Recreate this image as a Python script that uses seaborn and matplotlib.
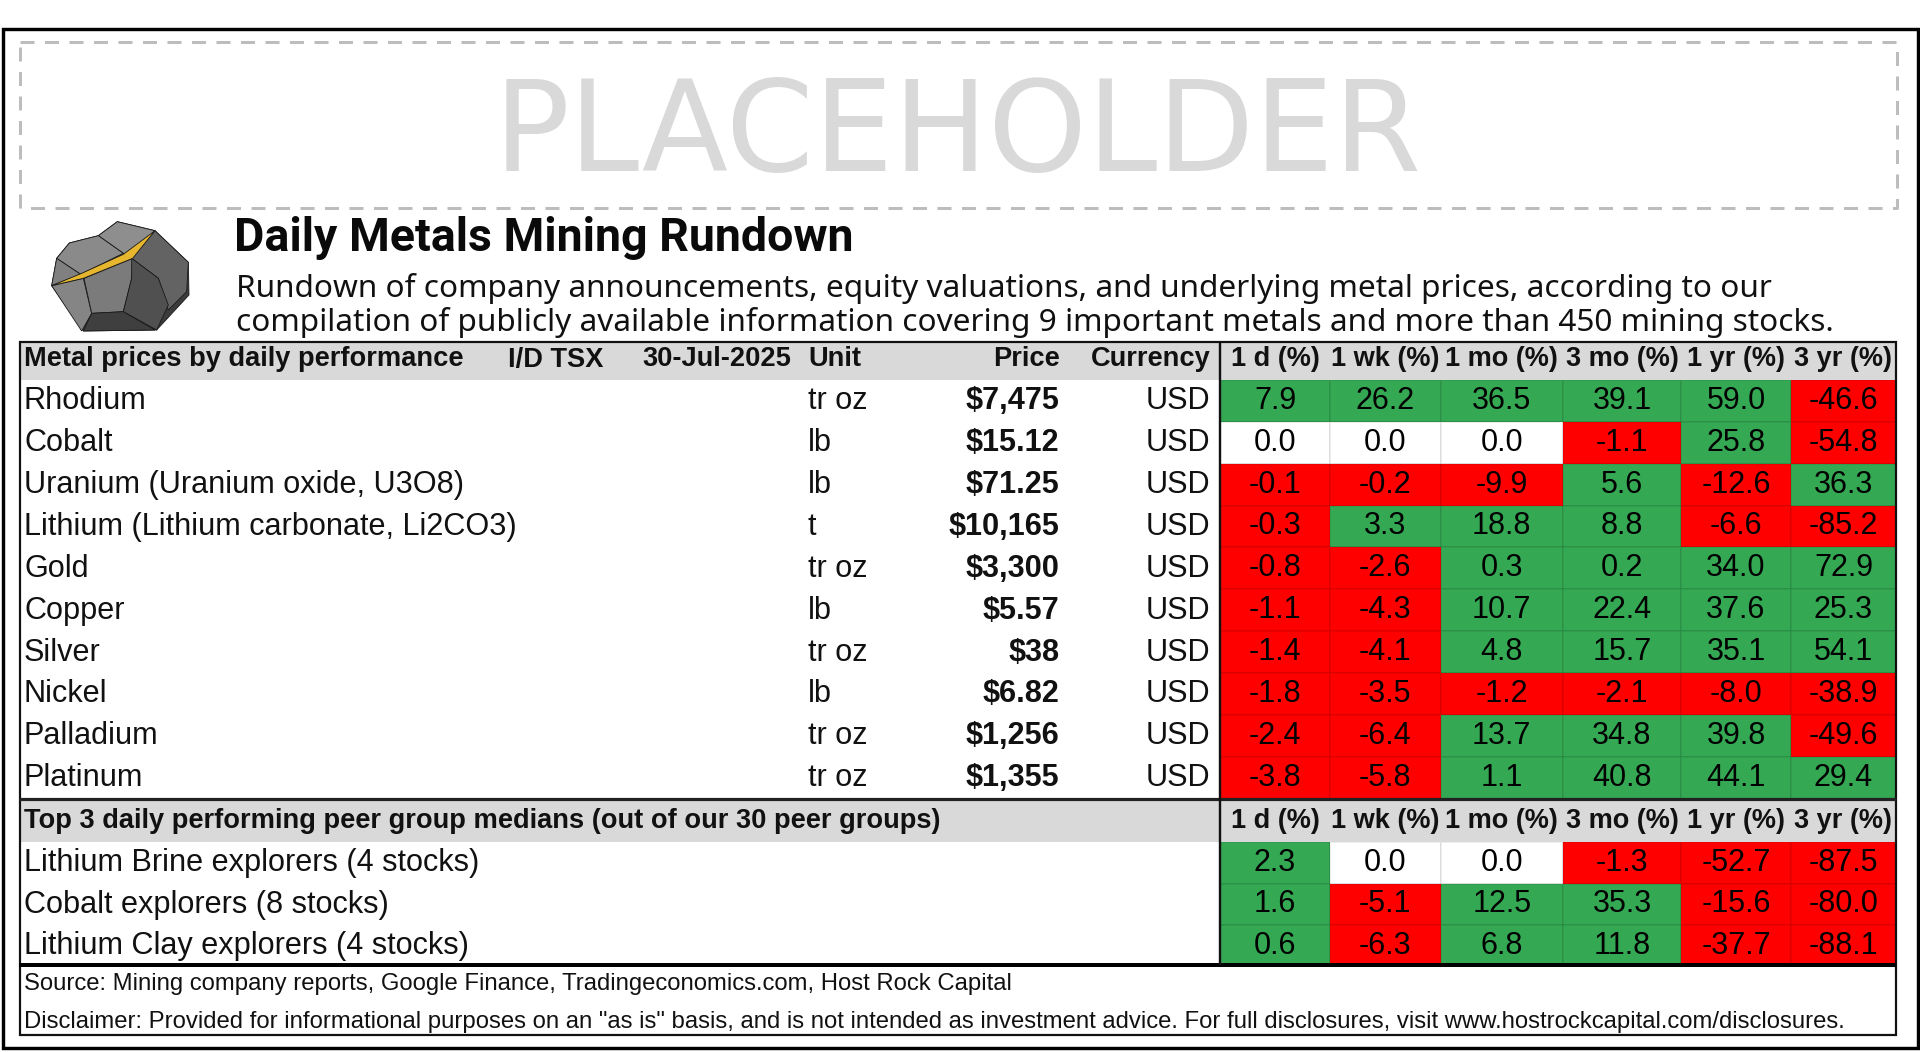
import numpy as np
import pandas as pd
import matplotlib
matplotlib.use("Agg")
import matplotlib.pyplot as plt
from matplotlib.colors import ListedColormap
from matplotlib.patches import Rectangle
import seaborn as sns

# ---------- data ----------
periods = ["1 d (%)", "1 wk (%)", "1 mo (%)", "3 mo (%)", "1 yr (%)", "3 yr (%)"]
metals = ["Rhodium", "Cobalt", "Uranium (Uranium oxide, U3O8)",
          "Lithium (Lithium carbonate, Li2CO3)", "Gold", "Copper", "Silver",
          "Nickel", "Palladium", "Platinum"]
units = ["tr oz", "lb", "lb", "t", "tr oz", "lb", "tr oz", "lb", "tr oz", "tr oz"]
prices = ["$7,475", "$15.12", "$71.25", "$10,165", "$3,300", "$5.57", "$38",
          "$6.82", "$1,256", "$1,355"]
metal_perf = [
    [7.9, 26.2, 36.5, 39.1, 59.0, -46.6],
    [0.0, 0.0, 0.0, -1.1, 25.8, -54.8],
    [-0.1, -0.2, -9.9, 5.6, -12.6, 36.3],
    [-0.3, 3.3, 18.8, 8.8, -6.6, -85.2],
    [-0.8, -2.6, 0.3, 0.2, 34.0, 72.9],
    [-1.1, -4.3, 10.7, 22.4, 37.6, 25.3],
    [-1.4, -4.1, 4.8, 15.7, 35.1, 54.1],
    [-1.8, -3.5, -1.2, -2.1, -8.0, -38.9],
    [-2.4, -6.4, 13.7, 34.8, 39.8, -49.6],
    [-3.8, -5.8, 1.1, 40.8, 44.1, 29.4],
]
peers = ["Lithium Brine explorers (4 stocks)", "Cobalt explorers (8 stocks)",
         "Lithium Clay explorers (4 stocks)"]
peer_perf = [
    [2.3, 0.0, 0.0, -1.3, -52.7, -87.5],
    [1.6, -5.1, 12.5, 35.3, -15.6, -80.0],
    [0.6, -6.3, 6.8, 11.8, -37.7, -88.1],
]
header_main = "Metal prices by daily performance"
header_exch = "I/D TSX"
header_date = "30-Jul-2025"
header_peers = "Top 3 daily performing peer group medians (out of our 30 peer groups)"
title = "Daily Metals Mining Rundown"
sub1 = "Rundown of company announcements, equity valuations, and underlying metal prices, according to our"
sub2 = "compilation of publicly available information covering 9 important metals and more than 450 mining stocks."
source = "Source: Mining company reports, Google Finance, Tradingeconomics.com, Host Rock Capital"
disclaimer = ('Disclaimer: Provided for informational purposes on an "as is" basis, and is not '
              'intended as investment advice. For full disclosures, visit www.hostrockcapital.com/disclosures.')

# ---------- theme ----------
sns.set_theme(style="white")
SANS = ["Liberation Sans", "DejaVu Sans"]
plt.rcParams["font.family"] = SANS

W, H = 1920, 1052
fig = plt.figure(figsize=(W / 100, H / 100), dpi=100, facecolor="white")

col_edges = [1220, 1330, 1440.5, 1563, 1681, 1791, 1896]
GREEN, RED = "#34A853", "#FF0000"
signed_cmap = ListedColormap([RED, "#FFFFFF", GREEN])


def perf_axes(values, top, bottom, fs=22):
    """Heatmap of signed performance, columns spaced through a scale."""
    x0, x1 = col_edges[0], col_edges[-1]
    ax = fig.add_axes([x0 / W, 1 - bottom / H, (x1 - x0) / W, (bottom - top) / H])
    frame = pd.DataFrame(values, columns=periods)
    sns.heatmap(frame, ax=ax, cmap=signed_cmap, vmin=-1.5, vmax=1.5, cbar=False,
                annot=frame.map(lambda v: f"{v:.1f}").values, fmt="",
                annot_kws={"fontsize": fs, "color": "black", "family": SANS},
                linewidths=1.4, linecolor=(0, 0, 0, 0.07),
                xticklabels=False, yticklabels=False)
    # colour comes from the sign only
    mesh = ax.collections[0]
    mesh.set_array(np.sign(frame.values).ravel())
    idx = np.arange(len(col_edges))
    ax.set_xscale("function",
                  functions=(lambda x: np.interp(x, idx, col_edges),
                             lambda p: np.interp(p, col_edges, idx)))
    ax.set_xlim(0, 6)
    ax.set_xticks([])
    ax.set_xticks([], minor=True)
    ax.set_yticks([])
    ax.tick_params(which="both", length=0, labelbottom=False, labelleft=False)
    ax.set_xlabel("")
    ax.set_ylabel("")
    return ax


TOP_T, TOP_B = 380, 798.5
PEER_T, PEER_B = 842, 966.5
perf_axes(metal_perf, TOP_T, TOP_B)
perf_axes(peer_perf, PEER_T, PEER_B)

# ---------- pixel-space overlay: bands, frames, text, icon ----------
ov = fig.add_axes([0, 0, 1, 1], facecolor="none", zorder=5)
ov.set_xlim(0, W)
ov.set_ylim(H, 0)
ov.axis("off")

bg = fig.add_axes([0, 0, 1, 1], facecolor="white", zorder=-5)
bg.set_xlim(0, W)
bg.set_ylim(H, 0)
bg.axis("off")
bg.add_patch(Rectangle((19, 342), 1877, 38, fc="#D9D9D9", ec="none"))
bg.add_patch(Rectangle((19, 799), 1877, 43, fc="#D9D9D9", ec="none"))


def px(v):
    return v * 0.72


def line(xs, ys, w=2.0, c="black", **kw):
    ov.plot(xs, ys, color=c, lw=px(w), solid_capstyle="butt", **kw)


# outer and inner frames
ov.add_patch(Rectangle((2.5, 29), 1915.5, 1019, fc="none", ec="black", lw=px(3.4)))
ov.add_patch(Rectangle((19.5, 342), 1876.5, 693, fc="none", ec="#111111", lw=px(2.2)))
line([19, 1896], [799, 799], 3.2, "#222222")
line([19, 1896], [965, 965], 4)
line([1220, 1220], [342, 965], 2.4, "#111111")

# dashed placeholder box
dash = (0, (14 / 3, 10.5 / 3))
ov.plot([20, 1897, 1897, 20, 20], [42, 42, 208, 208, 42], color="#BDBDBD",
        lw=px(3), linestyle=dash, dash_capstyle="butt")


def fit(t, width):
    r = fig.canvas.get_renderer()
    t.set_fontsize(t.get_fontsize() * width / t.get_window_extent(r).width)
    return t


fit(ov.text(494, 171, "PLACEHOLDER", fontsize=90, color="#D9D9D9",
            family=["DejaVu Sans"], fontweight="normal", va="baseline"), 928)
fit(ov.text(234, 251.5, title, fontsize=30, fontweight="bold", color="#0A0A0A",
            family=["Roboto", "DejaVu Sans"], va="baseline"), 618)
fit(ov.text(236, 296.5, sub1, fontsize=22, color="#111111",
            family=["Noto Sans", "DejaVu Sans"], va="baseline"), 1538)
fit(ov.text(236, 330.5, sub2, fontsize=22, color="#111111",
            family=["Noto Sans", "DejaVu Sans"], va="baseline"), 1601)

# header rows
HFS = 19.6
HB = 366.5
for x, s, ha in [(24, header_main, "left"), (508, header_exch, "left"),
                 (642, header_date, "left"), (808, "Unit", "left"),
                 (1059.5, "Price", "right"), (1210.5, "Currency", "right")]:
    ov.text(x, HB, s, fontsize=HFS, fontweight="bold", ha=ha, va="baseline", color="#111111")
ov.text(24, 828, header_peers, fontsize=HFS, fontweight="bold", va="baseline", color="#111111")
for i, s in enumerate(periods):
    xc = (col_edges[i] + col_edges[i + 1]) / 2
    ov.text(xc, HB, s, fontsize=19.5, fontweight="bold", ha="center", va="baseline", color="#111111")
    ov.text(xc, 828, s, fontsize=19.5, fontweight="bold", ha="center", va="baseline", color="#111111")

# metal rows
FS = 22.1
rh = (TOP_B - TOP_T) / len(metals)
for i, (m, u, p) in enumerate(zip(metals, units, prices)):
    base = TOP_T + rh * (i + 0.5) + 8.5
    ov.text(24, base, m, fontsize=FS, va="baseline", color="#111111")
    ov.text(808, base, u, fontsize=FS, va="baseline", color="#111111")
    ov.text(1059.5, base, p, fontsize=FS, fontweight="bold", ha="right", va="baseline", color="#111111")
    ov.text(1210.5, base, "USD", fontsize=FS, ha="right", va="baseline", color="#111111")

# peer rows
rh2 = (PEER_B - PEER_T) / len(peers)
for i, m in enumerate(peers):
    ov.text(24, PEER_T + rh2 * (i + 0.5) + 8.5, m, fontsize=FS, va="baseline", color="#111111")

# footer
fit(ov.text(24, 990, source, fontsize=18, va="baseline", color="#111111"), 987)
fit(ov.text(24, 1028, disclaimer, fontsize=18, va="baseline", color="#111111"), 1818)

# rock icon (decoration, traced in a 480x360 tile placed at 40,215)
rock_facets = [
    ("#3C3C3C", [(232, 20), (345, 47), (445, 142), (447, 240), (350, 345), (130, 348),
                 (35, 212), (50, 130), (88, 84), (175, 62)]),
    ("#8E8E8E", [(175, 62), (232, 20), (345, 47), (272, 130), (250, 115)]),
    ("#8A8A8A", [(88, 84), (175, 62), (250, 115), (122, 178), (50, 130)]),
    ("#808080", [(50, 130), (122, 178), (35, 212)]),
    ("#858585", [(35, 212), (130, 190), (155, 295), (125, 348)]),
    ("#7B7B7B", [(132, 190), (278, 130), (275, 190), (250, 290), (155, 295)]),
    ("#636363", [(345, 47), (445, 142), (440, 230), (385, 285), (355, 190), (275, 130)]),
    ("#505050", [(275, 130), (355, 190), (385, 270), (350, 345), (250, 290), (275, 190)]),
    ("#3F3F3F", [(155, 295), (250, 290), (345, 345), (130, 348)]),
    ("#E6B62F", [(35, 212), (125, 175), (250, 118), (345, 47), (278, 130), (130, 190)]),
]
for colour, pts in rock_facets:
    xs = [40 + a / 3 for a, _ in pts]
    ys = [215 + b / 3 for _, b in pts]
    ov.fill(xs, ys, facecolor=colour, edgecolor="#1A1A1A", lw=0.6)

fig.savefig("out.png", dpi=100)
